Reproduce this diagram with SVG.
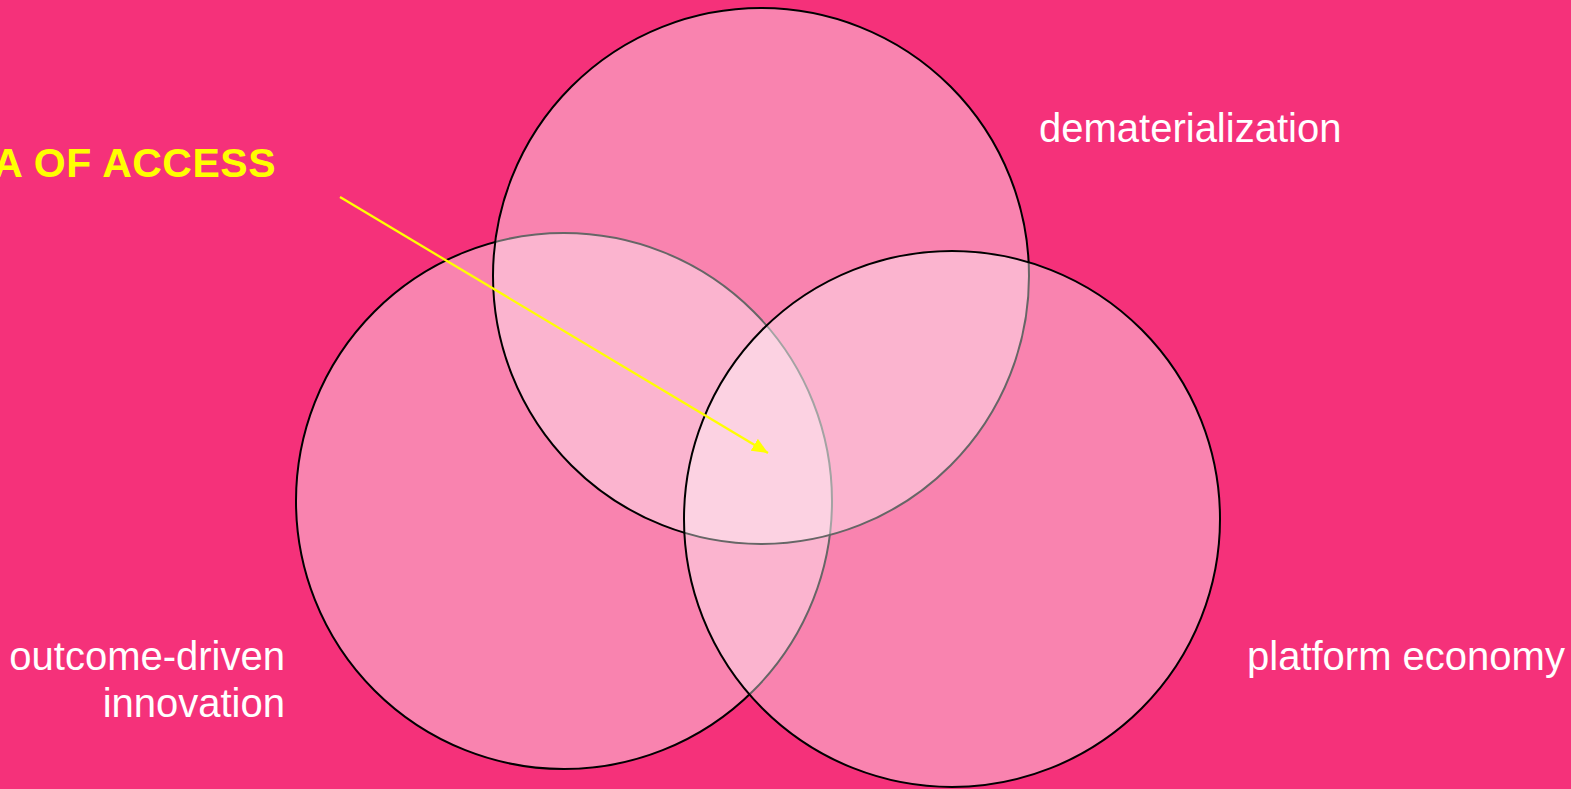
<svg xmlns="http://www.w3.org/2000/svg" width="1571" height="789" viewBox="0 0 1571 789">
<defs>
<style>
.circle{fill:#ffffff;fill-opacity:0.4;stroke:#000;stroke-width:2}
.lbl{font-family:"Liberation Sans",Arial,sans-serif;font-size:40px;fill:#ffffff}
.title{font-family:"Liberation Sans",Arial,sans-serif;font-size:41px;font-weight:bold;fill:#ffff00;letter-spacing:0.5px}
</style>
<marker id="ah" viewBox="0 0 16 14" refX="16" refY="7" markerWidth="16" markerHeight="14" markerUnits="userSpaceOnUse" orient="auto">
<path d="M0,0 L16,7 L0,14 z" fill="#ffff00"/>
</marker>
</defs>
<rect x="0" y="0" width="1571" height="789" fill="#F5317A"/>
<g id="outcome-driven">
<circle class="circle" cx="564" cy="501" r="268"/>
</g>
<g id="dematerialization">
<circle class="circle" cx="761" cy="276" r="268"/>
</g>
<g id="platform-economy">
<circle class="circle" cx="952" cy="519" r="268"/>
</g>
<g id="labels">
<text class="lbl" x="1039" y="142">dematerialization</text>
<text class="lbl" x="285" y="670" text-anchor="end">outcome-driven</text>
<text class="lbl" x="285" y="717" text-anchor="end">innovation</text>
<text class="lbl" x="1247" y="670">platform economy</text>
<text class="title" x="276" y="177" text-anchor="end">ERA OF ACCESS</text>
</g>
<g id="connectors">
<line x1="340" y1="197" x2="768" y2="453" stroke="#ffff00" stroke-width="2.3" marker-end="url(#ah)"/>
</g>
</svg>
